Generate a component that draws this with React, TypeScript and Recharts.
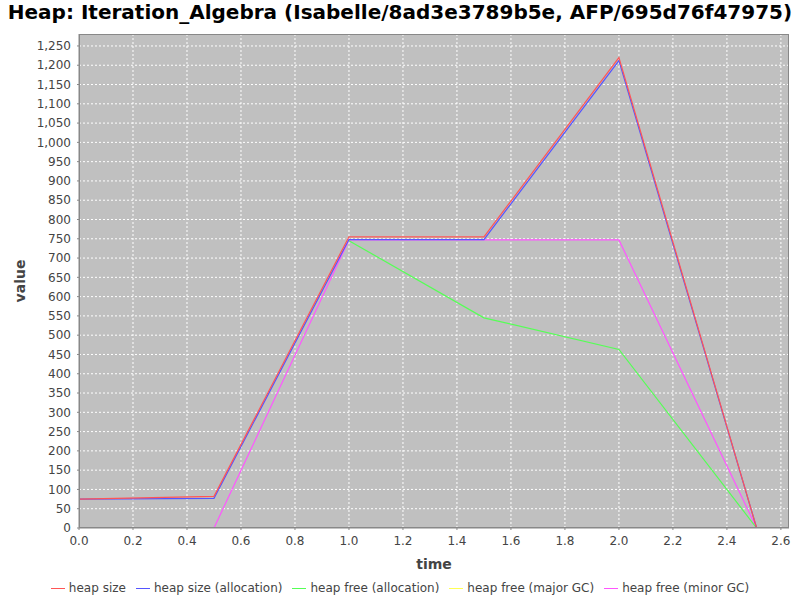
import { LineChart, Line, XAxis, YAxis, CartesianGrid } from 'recharts'

const times = [0, 0.5, 1.0, 1.5, 2.0, 2.51]
const heapSize = [75, 82, 755, 755, 1220, 0]
const heapSizeAlloc = [75, 77, 748, 748, 1212, 0]
const heapFreeAlloc = [null, null, 745, 545, 463, 0]
const heapFreeMajor = [0, 0, 0, 0, 0, 0]
const heapFreeMinor = [0, 0, 747, 747, 747, 0]

const xTicks = [0, 0.2, 0.4, 0.6, 0.8, 1.0, 1.2, 1.4, 1.6, 1.8, 2.0, 2.2, 2.4, 2.6]
const yTicks = Array.from({ length: 26 }, (_, i) => i * 50)

const SERIES = [
  { key: 'heapSize', name: 'heap size', color: '#FF5555' },
  { key: 'heapSizeAlloc', name: 'heap size (allocation)', color: '#5555FF' },
  { key: 'heapFreeAlloc', name: 'heap free (allocation)', color: '#55FF55' },
  { key: 'heapFreeMajor', name: 'heap free (major GC)', color: '#FFFF55' },
  { key: 'heapFreeMinor', name: 'heap free (minor GC)', color: '#FF55FF' },
]

const data = times.map((t, i) => ({
  t,
  heapSize: heapSize[i],
  heapSizeAlloc: heapSizeAlloc[i],
  heapFreeAlloc: heapFreeAlloc[i],
  heapFreeMajor: heapFreeMajor[i],
  heapFreeMinor: heapFreeMinor[i],
}))

const FONT = '"DejaVu Sans", sans-serif'
const tickStyle = { fontFamily: FONT, fontSize: 12, fill: '#444' }

export default function App() {
  // draw in reverse so that "heap size" ends up on top
  const drawOrder = [...SERIES].reverse()

  return (
    <div style={{ position: 'absolute', left: 0, top: 0, width: 800, height: 600, background: '#fff', fontFamily: FONT }}>
      <div style={{ position: 'absolute', top: 0, left: 0, width: 800, lineHeight: '24px', textAlign: 'center', fontSize: 20, fontWeight: 'bold', color: '#000', whiteSpace: 'nowrap' }}>
        Heap: Iteration_Algebra (Isabelle/8ad3e3789b5e, AFP/695d76f47975)
      </div>
      <LineChart width={800} height={600} data={data} margin={{ top: 34, right: 11, left: 0, bottom: 22 }}>
        <CartesianGrid stroke="#fff" strokeDasharray="2 2" fill="#C0C0C0" fillOpacity={1} />
        <XAxis
          dataKey="t"
          type="number"
          domain={[0, 2.63]}
          ticks={xTicks}
          allowDataOverflow
          tickFormatter={(v: number) => v.toFixed(1)}
          tick={tickStyle}
          tickSize={2}
          tickMargin={6}
          height={50}
          axisLine={{ stroke: '#888' }}
          tickLine={{ stroke: '#888' }}
          label={{ value: 'time', position: 'insideBottom', offset: 9, style: { fontFamily: FONT, fontSize: 14, fontWeight: 'bold', fill: '#444' } }}
        />
        <YAxis
          type="number"
          domain={[0, 1281]}
          ticks={yTicks}
          allowDataOverflow
          tickFormatter={(v: number) => v.toLocaleString('en-US')}
          tick={tickStyle}
          tickSize={2}
          tickMargin={6}
          width={79}
          interval={0}
          axisLine={{ stroke: '#888' }}
          tickLine={{ stroke: '#888' }}
          label={{
            content: ({ viewBox }: any) => {
              const cy = viewBox.y + viewBox.height / 2
              return (
                <text x={25} y={cy} transform={`rotate(-90, 25, ${cy})`} textAnchor="middle" style={{ fontFamily: FONT, fontSize: 14, fontWeight: 'bold', fill: '#444' }}>
                  value
                </text>
              )
            },
          }}
        />
        {drawOrder.map((s) => (
          <Line
            key={s.key}
            dataKey={s.key}
            stroke={s.color}
            strokeWidth={1.2}
            dot={false}
            type="linear"
            isAnimationActive={false}
          />
        ))}
      </LineChart>
      <div style={{ position: 'absolute', left: 79, top: 34, width: 710, height: 494, border: '1px solid #888', boxSizing: 'border-box', pointerEvents: 'none' }} />
      <div style={{ position: 'absolute', top: 581, left: 0, width: 800, display: 'flex', justifyContent: 'center', fontSize: 12, color: '#444' }}>
        {SERIES.map((s) => (
          <div key={s.key} style={{ display: 'flex', alignItems: 'center', margin: '0 5px' }}>
            <span style={{ display: 'inline-block', width: 14, height: 1, background: s.color, marginRight: 4 }} />
            {s.name}
          </div>
        ))}
      </div>
    </div>
  )
}
